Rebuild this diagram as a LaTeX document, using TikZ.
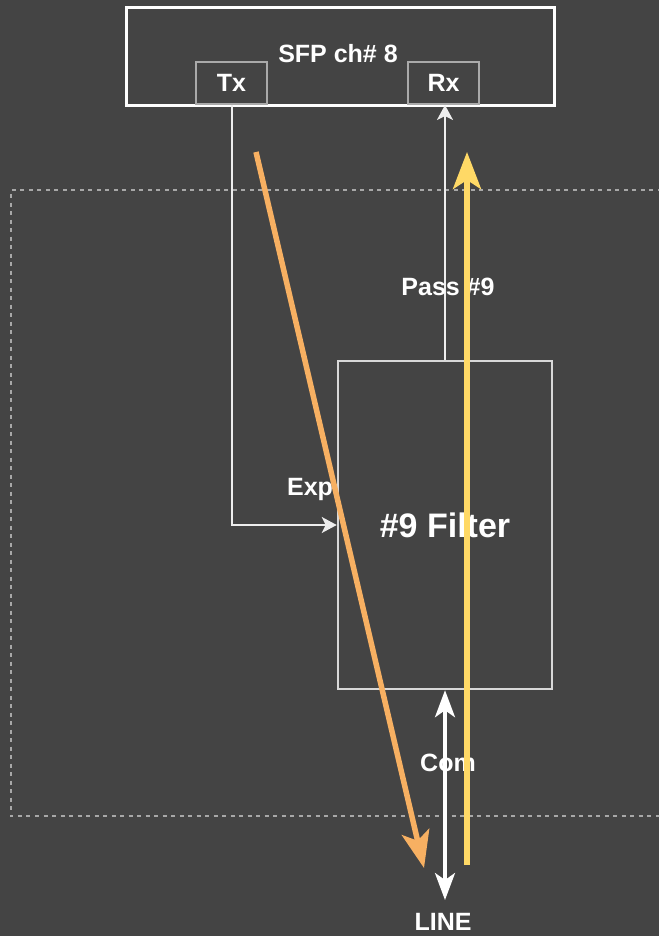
\documentclass[tikz,border=0pt]{standalone}
\usepackage{fontspec}
\setmainfont{Liberation Sans}
\usetikzlibrary{arrows.meta}
\definecolor{bg}{HTML}{444444}
\definecolor{wire}{HTML}{EEEEEE}
\definecolor{portline}{HTML}{AAAAAA}
\definecolor{filterline}{HTML}{D8D8D8}
\definecolor{zoneline}{HTML}{A8A8A8}
\definecolor{txpath}{HTML}{F7B062}
\definecolor{rxpath}{HTML}{FFD966}
\tikzset{
  lbl/.style={text=white, font=\bfseries\fontsize{25}{28}\selectfont, inner sep=0pt},
  portbox/.style={draw=portline, line width=2pt, minimum width=71pt, minimum height=42pt, lbl},
  wireline/.style={draw=wire, line width=2pt},
  smalltip/.style={-{Stealth[length=15pt, width=16pt, inset=4pt]}},
  bigpath/.style={line width=5.5pt, -{Stealth[length=37pt, width=28pt, inset=9pt]}},
}
\begin{document}
\begin{tikzpicture}[x=1pt, y=-1pt]
  % canvas
  \fill[bg] (0,0) rectangle (659,936);
  \useasboundingbox (0,0) rectangle (659,936);
  \clip (0,0) rectangle (659,936);

  % dotted zone around the filter
  \draw[zoneline, line width=1.6pt, dash pattern=on 4pt off 4.5pt] (670,190) -- (11,190) -- (11,816) -- (670,816);

  % transceiver
  \node[draw=white, line width=3pt, minimum width=428pt, minimum height=98pt, lbl, anchor=north west] (sfp) at (125,6) {};
  \node[lbl] (sfplabel) at (338,54) {SFP ch\# 8};
  \node[portbox] (tx) at (231.5,83) {Tx};
  \node[portbox] (rx) at (443.5,83) {Rx};

  % filter
  \node[draw=filterline, line width=2.5pt, minimum width=214pt, minimum height=328pt, text=white,
        font=\bfseries\fontsize{34}{37}\selectfont, inner sep=0pt] (filter) at (445,525) {\#9 Filter};

  % connectors
  \draw[wireline, smalltip] (tx.south) |- (filter.west);
  \draw[wireline, smalltip] (filter.north) -- (filter.north |- rx.south);
  \coordinate (lineend) at (445,900);
  \draw[draw=white, line width=3.5pt, {Stealth[length=27pt, width=20pt, inset=7pt]}-{Stealth[length=27pt, width=20pt, inset=7pt]}] (filter.south) -- (lineend);

  % port labels
  \node[lbl] (exp) at (310,489) {Exp};
  \node[lbl] (pass) at (448,287) {Pass \#9};
  \node[lbl] (com) at (448,763) {Com};
  \node[lbl] (line) at (443,922) {LINE};

  % signal paths
  \coordinate (txstart) at (256,152);
  \coordinate (txend) at (424,868);
  \coordinate (rxstart) at (467,865);
  \coordinate (rxend) at (467,152);
  \draw[txpath, bigpath] (txstart) -- (txend);
  \draw[rxpath, bigpath] (rxstart) -- (rxend);
\end{tikzpicture}
\end{document}
